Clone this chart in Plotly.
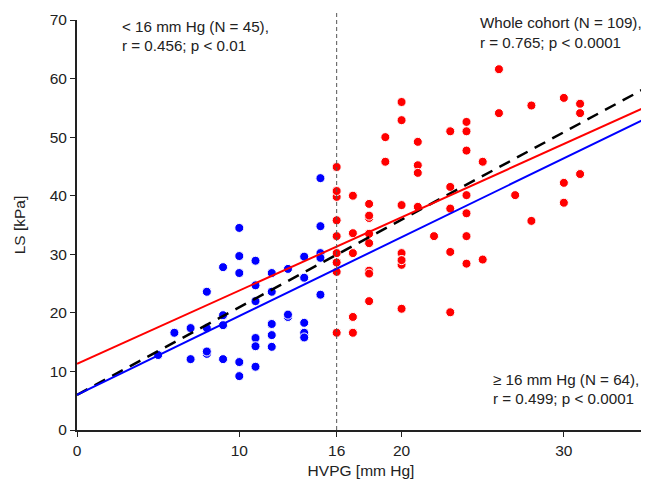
import plotly.graph_objects as go

# Blue group: HVPG < 16 mm Hg
blue_x = [5, 6, 7, 7, 8, 8, 8, 8, 9, 9, 9, 9, 10, 10, 10, 10, 10,
          11, 11, 11, 11, 11, 11, 12, 12, 12, 12, 12, 13, 13, 13,
          14, 14, 14, 14, 14, 15, 15, 15, 15, 15, 11, 12, 10, 9]
blue_y = [12.8, 16.6, 17.4, 12.1, 23.6, 17.4, 13.0, 13.4, 27.8, 19.6, 17.9, 12.1,
          34.5, 29.7, 26.8, 11.6, 9.2,
          28.9, 24.7, 22.0, 15.7, 14.3, 10.8, 26.8, 23.6, 18.1, 16.2, 14.2,
          27.5, 19.3, 19.7, 29.6, 26.0, 18.3, 16.6, 15.8, 43.0, 34.8, 30.2, 29.4, 23.1,
          22.0, 18.1, 11.6, 17.9]

# Red group: HVPG >= 16 mm Hg
red_x = [16, 16, 16, 16, 16, 16, 16, 16, 16,
         17, 17, 17, 17, 17,
         18, 18, 18, 18, 18, 18, 18, 18,
         19, 19,
         20, 20, 20, 20, 20, 20, 20,
         21, 21, 21, 21,
         22,
         23, 23, 23, 23, 23,
         24, 24, 24, 24, 24, 24, 24,
         25, 25,
         26, 26,
         27,
         28, 28,
         30, 30, 30,
         31, 31, 31,
         16, 18, 20]
red_y = [44.9, 40.8, 39.8, 35.8, 33.1, 30.2, 28.6, 27.0, 16.6,
         40.0, 33.6, 30.2, 19.3, 16.6,
         38.6, 36.2, 36.6, 33.5, 31.9, 27.2, 26.7, 22.0,
         50.0, 45.8,
         56.0, 52.9, 38.4, 30.2, 29.0, 28.2, 20.7,
         49.2, 45.2, 43.9, 38.1,
         33.1,
         51.0, 41.5, 37.8, 30.4, 20.1,
         52.6, 51.0, 47.7, 40.1, 37.0, 33.1, 28.4,
         45.8, 29.1,
         61.6, 54.1,
         40.1,
         55.4, 35.7,
         56.7, 42.2, 38.8,
         55.7, 54.1, 43.7,
         40.8, 31.9, 29.0]

# Regression lines (intercept, slope)
line_x = [0, 35]
blue_fit = (6.0, 1.346)
red_fit = (11.3, 1.251)
all_fit = (6.0, 1.495)

x_ticks = [0, 10, 16, 20, 30]
y_ticks = [0, 10, 20, 30, 40, 50, 60, 70]

# Annotation texts
ann_low = ["< 16 mm Hg (N = 45),", "r = 0.456; p < 0.01"]
ann_all = ["Whole cohort (N = 109),", "r = 0.765; p < 0.0001"]
ann_high = ["≥ 16 mm Hg (N = 64),", "r = 0.499; p < 0.0001"]

def fit_vals(fit):
    return [fit[0] + fit[1] * v for v in line_x]

font_family = "Liberation Sans, Arial, sans-serif"
txt = "#222222"

fig = go.Figure()
fig.add_trace(go.Scatter(x=blue_x, y=blue_y, mode="markers",
                         marker=dict(color="#0000FF", size=9, line=dict(color="white", width=1)),
                         showlegend=False))
fig.add_trace(go.Scatter(x=red_x, y=red_y, mode="markers",
                         marker=dict(color="#FF0000", size=9, line=dict(color="white", width=1)),
                         showlegend=False))
fig.add_trace(go.Scatter(x=line_x, y=fit_vals(all_fit), mode="lines",
                         line=dict(color="black", width=2.5, dash="12px,8px"),
                         showlegend=False))
fig.add_trace(go.Scatter(x=line_x, y=fit_vals(red_fit), mode="lines",
                         line=dict(color="#FF0000", width=2),
                         showlegend=False))
fig.add_trace(go.Scatter(x=line_x, y=fit_vals(blue_fit), mode="lines",
                         line=dict(color="#0000FF", width=2),
                         showlegend=False))

fig.add_shape(type="line", xref="x", yref="paper", x0=16, x1=16, y0=0, y1=1.02,
              line=dict(color="#555555", width=1, dash="4px,3px"))

ann_font = dict(size=15.2, color=txt, family=font_family)
def add_block(lines, x, ys):
    for t, yv in zip(lines, ys):
        fig.add_annotation(x=x, y=yv, xref="paper", yref="paper",
                           xanchor="left", yanchor="middle", align="left",
                           showarrow=False, text=t, font=ann_font)

add_block(ann_low, 0.076, [0.983, 0.939])
add_block(ann_all, 0.706, [0.993, 0.945])
add_block(ann_high, 0.729, [0.124, 0.078])

fig.update_layout(
    width=641, height=476,
    margin=dict(l=69, r=4, t=12, b=54),
    plot_bgcolor="white", paper_bgcolor="white",
    font=dict(family=font_family, size=15.5, color=txt),
    xaxis=dict(range=[0, 35], tickmode="array", tickvals=x_ticks,
               showline=True, linecolor="#222222", linewidth=2,
               ticks="outside", ticklen=5, tickcolor="#222222",
               showgrid=False, zeroline=False,
               title=dict(text="HVPG [mm Hg]", standoff=8, font=dict(size=15.5))),
    yaxis=dict(range=[0, 70], tickmode="array", tickvals=y_ticks,
               showline=True, linecolor="#222222", linewidth=2,
               ticks="outside", ticklen=5, tickcolor="#222222",
               showgrid=False, zeroline=False,
               title=dict(text="LS [kPa]", standoff=20, font=dict(size=15.5))),
)

fig.write_html("out.html")
